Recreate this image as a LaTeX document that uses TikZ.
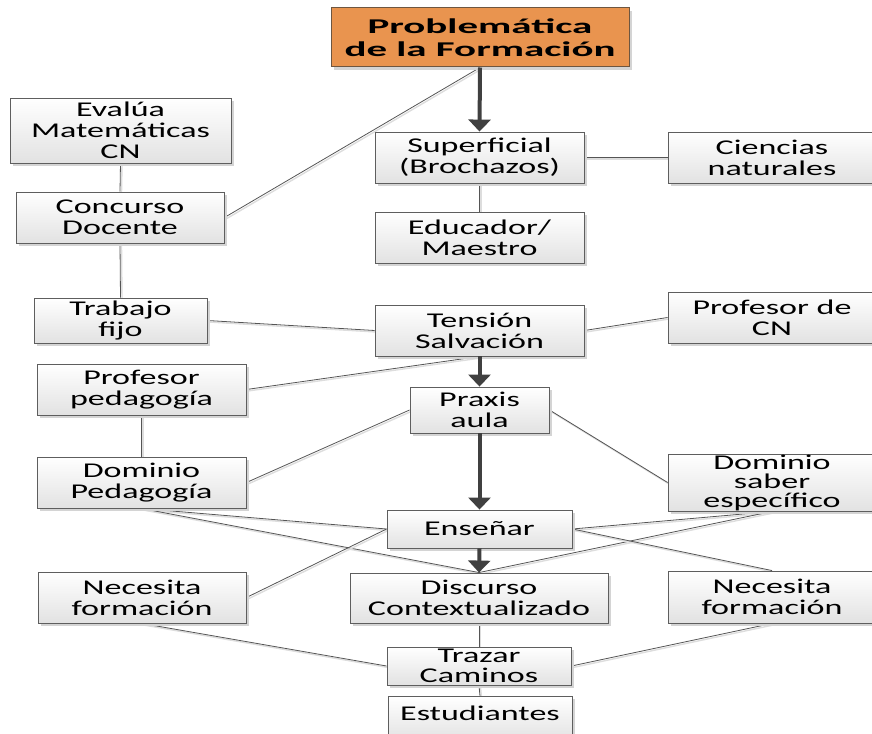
\documentclass[tikz,border=0pt]{standalone}
\usepackage{fontspec}
\setmainfont{Carlito}[FakeStretch=1.62]
\newfontfamily\headfont{Carlito}[FakeStretch=1.95]
\usetikzlibrary{arrows.meta,backgrounds}

\definecolor{boxline}{HTML}{5E5E5E}
\definecolor{boxbot}{HTML}{E2E2E2}
\definecolor{boxshadow}{HTML}{D4D4D4}
\definecolor{headfill}{HTML}{E9944F}
\definecolor{headline}{HTML}{6E5640}
\definecolor{linkgray}{HTML}{555555}
\definecolor{linkshadow}{HTML}{DDDDDD}
\definecolor{flowgray}{HTML}{404040}

\tikzset{
  box/.style={draw=boxline, line width=0.9pt, top color=white, bottom color=boxbot,
    inner sep=0pt, align=center, font=\fontsize{21}{21}\selectfont,
    preaction={fill=boxshadow, transform canvas={xshift=3pt,yshift=-3pt}}},
  headbox/.style={draw=headline, line width=1pt, fill=headfill, inner sep=0pt,
    align=center, font=\headfont\bfseries\fontsize{21}{23}\selectfont,
    preaction={fill=boxshadow, transform canvas={xshift=3pt,yshift=-3pt}}},
  link/.style={draw=linkgray, line width=0.8pt,
    preaction={draw=linkshadow, line width=1.4pt, transform canvas={xshift=1.5pt,yshift=-1.5pt}}},
  flow/.style={draw=flowgray, line width=4pt, -{Triangle[width=22pt,length=12pt]}},
}

\begin{document}
\begin{tikzpicture}[x=1pt,y=-1pt]
\useasboundingbox (0,0) rectangle (872,733);

% concept boxes
\node[headbox, minimum width=298pt, minimum height=59pt] (prob) at (480,37.5) {Problemática\\de la Formación};
\node[box, minimum width=221pt, minimum height=65pt] (eval) at (120.5,130.5) {Evalúa\\Matemáticas\\CN};
\node[box, minimum width=208pt, minimum height=51pt] (conc) at (120,217.5) {Concurso\\Docente};
\node[box, minimum width=209pt, minimum height=51pt] (sup) at (479.5,157.5) {Superficial\\(Brochazos)};
\node[box, minimum width=208pt, minimum height=51pt] (cien) at (772,157.5) {Ciencias\\naturales};
\node[box, minimum width=209pt, minimum height=51pt] (edu) at (479.5,237.5) {Educador/\\Maestro};
\node[box, minimum width=173pt, minimum height=45pt] (trab) at (120.5,320.5) {Trabajo\\fijo};
\node[box, minimum width=209pt, minimum height=51pt] (tens) at (479.5,330.5) {Tensión\\Salvación};
\node[box, minimum width=208pt, minimum height=51pt] (pcn) at (772,317.5) {Profesor de\\CN};
\node[box, minimum width=209pt, minimum height=51pt] (pped) at (141.5,389.5) {Profesor\\pedagogía};
\node[box, minimum width=139pt, minimum height=46pt] (prax) at (479.5,410) {Praxis\\aula};
\node[box, minimum width=209pt, minimum height=51pt] (dped) at (141.5,482.5) {Dominio\\Pedagogía};
\node[box, minimum width=208pt, minimum height=57pt, font=\fontsize{21}{19}\selectfont] (dsab) at (772,482.5) {Dominio\\saber\\específico};
\node[box, minimum width=185pt, minimum height=38pt] (ens) at (479.5,529) {Enseñar};
\node[box, minimum width=208pt, minimum height=51pt] (nec1) at (142,597.5) {Necesita\\formación};
\node[box, minimum width=258pt, minimum height=50pt] (disc) at (479,598) {Discurso\\Contextualizado};
\node[box, minimum width=208pt, minimum height=52pt] (nec2) at (772,597) {Necesita\\formación};
\node[box, minimum width=184pt, minimum height=38pt, font=\fontsize{21}{20}\selectfont] (traz) at (479,666) {Trazar\\Caminos};
\node[box, minimum width=184pt, text height=24pt, text depth=20pt, anchor=north] (stud) at (480,696) {Estudiantes};

% plain connectors, behind the boxes
\begin{scope}[on background layer]
\draw[link] (prob.south) -- (conc.east);
\draw[link] (eval.south) -- (conc.north);
\draw[link] (conc.south) -- (trab.north);
\draw[link] (sup.east) -- (cien.west);
\draw[link] (sup.south) -- (edu.north);
\draw[link] (trab.east) -- (tens.west);
\draw[link] (tens.east) -- (pcn.west);
\draw[link] (pped.east) -- (tens.south);
\draw[link] (pped.south) -- (dped.north);
\draw[link] (dped.east) -- (prax.west);
\draw[link] (prax.east) -- (dsab.west);
\draw[link] (dped.south) -- (ens.west);
\draw[link] (dped.south) -- (disc.north);
\draw[link] (dsab.south) -- (ens.east);
\draw[link] (dsab.south) -- (disc.north);
\draw[link] (ens.west) -- (nec1.east);
\draw[link] (ens.east) -- (nec2.north);
\draw[link] (disc.south) -- (traz.north);
\draw[link] (nec1.south) -- (traz.west);
\draw[link] (nec2.south) -- (traz.east);
\draw[link] (traz.south) -- (stud.north);
\end{scope}

% main flow arrows
\draw[flow] (prob.south) -- (sup.north);
\draw[flow] (tens.south) -- (prax.north);
\draw[flow] (prax.south) -- (ens.north);
\draw[flow] (ens.south) -- (disc.north);
\end{tikzpicture}
\end{document}
